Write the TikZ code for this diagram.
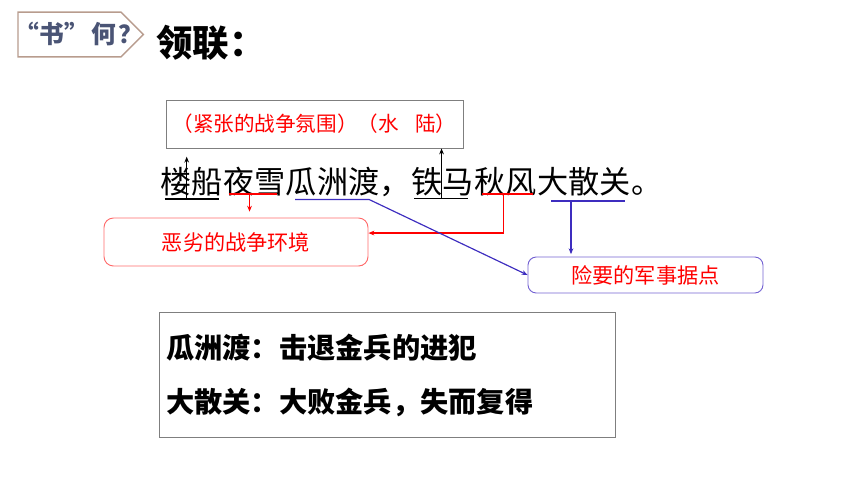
\documentclass[tikz,border=0pt]{standalone}
\usepackage{fontspec}
\setmainfont{Noto Sans CJK SC}
\usepackage{xcolor}
\usepackage{tikz}
\usetikzlibrary{positioning}
\usetikzlibrary{arrows.meta}
\usetikzlibrary{shapes.symbols}
\definecolor{tagline}{HTML}{B89C8E}
\definecolor{tagtext}{HTML}{4A5475}
\definecolor{pen}{HTML}{3D2DBF}
\definecolor{keyline}{HTML}{7463D3}
\definecolor{badline}{HTML}{FF6B6B}
\definecolor{boxgray}{HTML}{7F7F7F}
\tikzset{word/.style={inner sep=0pt, text height=23pt, text depth=4pt,
   font=\fontsize{26.5}{30}\selectfont},
 uline/.style={line width=1.3pt},
 arr/.style={-{Stealth[length=5pt,width=4pt]}, line width=1pt},
 note/.style={inner sep=0pt, text=red, font=\fontsize{18}{20}\selectfont},
 boxline/.style={draw=boxgray, line width=0.8pt},
 }

\begin{document}
\begin{tikzpicture}[x=0.85pt, y=-0.85pt]
        \useasboundingbox (0,0) rectangle (860,484);
        \node[signal, signal to=east, draw=tagline, line width=1.2pt, fill=white,
          minimum width=106.6pt, minimum height=38pt, inner sep=0pt] (tag) at (69.5,34.5) {};
        \node[text=tagtext, inner sep=0pt, font=\bfseries\fontsize{21}{23}\selectfont] (tagname) at (79,34) {“书”\hspace{0.12em}何\hspace{0.08em}？};
        \node[anchor=west, inner sep=0pt, font=\bfseries\fontsize{31}{34}\selectfont] (title) at (156,43) {领联：};
        \node[boxline, minimum width=252.5pt, minimum height=40.8pt, text=red,
          font=\fontsize{17.5}{20}\selectfont] (top) at (314.5,124) {（紧张的战争氛围）（水\hspace{0.8em}陆）};
        % the verse
        \node[word, anchor=base west] (w1) at (160,193) {楼船};
        \node[word, right=0pt of w1] (w2) {夜雪};
        \node[word, right=0pt of w2] (w3) {瓜洲渡};
        \node[word, right=0pt of w3] (c1) {，};
        \node[word, right=0pt of c1] (w4) {铁马};
        \node[word, right=0pt of w4] (w5) {秋风};
        \node[word, right=0pt of w5] (w6) {大散关};
        \node[word, right=0pt of w6] (c2) {。};
        \node[note, draw=badline, rounded corners=8pt, line width=0.8pt,
          minimum width=224.4pt, minimum height=40.8pt] (bad) at (236,242) {恶劣的战争环境};
        \node[note, draw=keyline, rounded corners=7pt, line width=0.8pt,
          minimum width=199.75pt, minimum height=30.6pt] (key) at (645.5,275) {险要的军事据点};
        \draw[uline] ([xshift=4pt,yshift=-5pt]w1.base west) -- ([xshift=-3pt,yshift=-5pt]w1.base east);
        \draw[uline, red] ([xshift=5pt,yshift=-1pt]w2.base west) -- ([xshift=-7pt,yshift=-1pt]w2.base east);
        \draw[uline] ([xshift=2.5pt,yshift=-4.5pt]w4.base west) -- ([xshift=-5pt,yshift=-4.5pt]w4.base east);
        \draw[uline, red] ([xshift=7pt,yshift=-1pt]w5.base west) -- ([xshift=-3pt,yshift=-1pt]w5.base east);
        \draw[uline, pen] ([xshift=12pt,yshift=-7pt]w6.base west) -- ([xshift=-5pt,yshift=-7pt]w6.base east);
        \coordinate (u1) at ([xshift=-4pt,yshift=-5pt]w1.base);
        \coordinate (u2) at ([xshift=-4pt,yshift=-1pt]w2.base);
        \coordinate (u4) at ([xshift=-1pt,yshift=-4.5pt]w4.base);
        \coordinate (u5) at ([xshift=-2pt,yshift=-1pt]w5.base);
        \coordinate (u6) at ([xshift=-11pt,yshift=-7pt]w6.base);
        \draw[arr, shorten >=7pt] (u1) -- (u1 |- top.south);
        \draw[arr] (u4) -- (u4 |- top.south);
        \draw[arr, red, shorten >=5pt] (u2) -- (u2 |- bad.north);
        \draw[arr, red] (u5) |- ([yshift=7.6pt]bad.east);
        \draw[arr, pen] ([xshift=8pt,yshift=-5.5pt]w3.base west) -- ([xshift=-9pt,yshift=-5.5pt]w3.base east) -- (key.west);
        \draw[arr, pen, shorten >=2pt] (u6) -- (u6 |- key.north);
        % summary
        \node[boxline, minimum width=387.6pt, minimum height=107pt] (sum) at (387,375) {};
        \node[anchor=west, inner sep=0pt, font=\bfseries\fontsize{24}{28}\selectfont] (l1) at (166,348) {瓜洲渡：击退金兵的进犯};
        \node[anchor=west, inner sep=0pt, font=\bfseries\fontsize{24}{28}\selectfont] (l2) at (166,402) {大散关：大败金兵，失而复得};
    \end{tikzpicture}
\end{document}
